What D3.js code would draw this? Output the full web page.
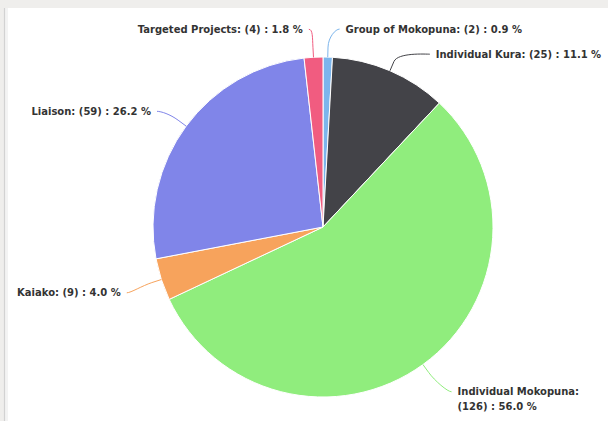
<!DOCTYPE html>
<html>
<head>
<meta charset="utf-8">
<script src="https://cdn.jsdelivr.net/npm/d3@7/dist/d3.min.js"></script>
<style>
  html, body { margin: 0; padding: 0; background: #efeeec; }
  svg { display: block; }
  .lbl { font-family: "DejaVu Sans", sans-serif; font-weight: bold; font-size: 10px; fill: #333333; }
</style>
</head>
<body>
<script>
// ---- data ----
const categories = ["Group of Mokopuna", "Individual Kura", "Individual Mokopuna", "Kaiako", "Liaison", "Targeted Projects"];
const counts = [2, 25, 126, 9, 59, 4];
const percents = [0.9, 11.1, 56.0, 4.0, 26.2, 1.8];
const colors = ["#7cb5ec", "#434348", "#90ed7d", "#f7a35c", "#8085e9", "#f15c80"];

// ---- layout (label nudges relative to the point at radius + distance) ----
const W = 608, H = 421;
const cx = 323, cy = 227, R = 170, labelDist = 30;
const labelNudge = [
  { dx: 17, dy: 2 },   // Group of Mokopuna
  { dx: 34, dy: 11 },  // Individual Kura
  { dx: 17, dy: 3 },   // Individual Mokopuna
  { dx: -12, dy: 4 },  // Kaiako
  { dx: -11, dy: 3 },  // Liaison
  { dx: -9, dy: 2 }    // Targeted Projects
];

const svg = d3.select("body").append("svg").attr("width", W).attr("height", H);

// page background and panel
svg.append("rect").attr("width", W).attr("height", H).attr("fill", "#efeeec");
svg.append("rect").attr("x", 4).attr("y", 8).attr("width", W - 4).attr("height", H - 8).attr("fill", "#ffffff");
svg.append("rect").attr("x", 5).attr("y", 8).attr("width", 3).attr("height", H - 8).attr("fill", "#f3f3f3");
svg.append("line").attr("x1", 4.5).attr("x2", 4.5).attr("y1", 8).attr("y2", H).attr("stroke", "#d2d2d2").attr("stroke-width", 1.2);

const data = categories.map((c, i) => ({ name: c, count: counts[i], pct: percents[i], color: colors[i], i }));

const pie = d3.pie().value(d => d.count).sort(null);
const arcs = pie(data);
const arc = d3.arc().innerRadius(0).outerRadius(R);

const g = svg.append("g").attr("transform", `translate(${cx},${cy})`);

g.selectAll("path.slice").data(arcs).enter().append("path")
  .attr("class", "slice")
  .attr("d", arc)
  .attr("fill", d => d.data.color)
  .attr("stroke", "#ffffff")
  .attr("stroke-width", 1)
  .attr("stroke-linejoin", "round");

function polar(angle, rad) {
  return [Math.sin(angle) * rad, -Math.cos(angle) * rad];
}

arcs.forEach(a => {
  const mid = (a.startAngle + a.endAngle) / 2;
  const right = Math.sin(mid) >= 0;
  const base = polar(mid, R + labelDist);
  const nd = labelNudge[a.data.i];
  const tx = base[0] + nd.dx, ty = base[1] + nd.dy;
  const edge = polar(mid, R);
  const brk = polar(mid, R + 10);
  const sx = tx + (right ? -6 : 6);
  const path = d3.path();
  path.moveTo(sx, ty);
  path.bezierCurveTo(sx + (right ? -4 : 4), ty, 2 * brk[0] - edge[0], 2 * brk[1] - edge[1], brk[0], brk[1]);
  path.lineTo(edge[0], edge[1]);
  g.append("path").attr("d", path.toString())
    .attr("fill", "none").attr("stroke", a.data.color).attr("stroke-width", 1);

  const full = `${a.data.name}: (${a.data.count}) : ${a.data.pct.toFixed(1)} %`;
  const t = g.append("text").attr("class", "lbl")
    .attr("text-anchor", right ? "start" : "end")
    .attr("x", tx).attr("y", ty).attr("dy", "0.35em");
  if (a.data.name === "Individual Mokopuna") {
    t.append("tspan").attr("x", tx).text(`${a.data.name}:`);
    t.append("tspan").attr("x", tx).attr("dy", "1.5em").text(`(${a.data.count}) : ${a.data.pct.toFixed(1)} %`);
  } else {
    t.text(full);
  }
});
</script>
</body>
</html>
